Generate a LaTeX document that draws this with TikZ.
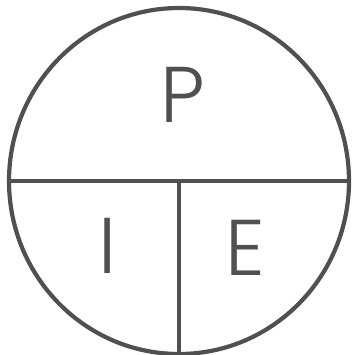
\documentclass[tikz,border=0pt]{standalone}
\usepackage{fontspec}
\newfontfamily\piefont{Poppins Light}
\definecolor{pieline}{HTML}{505050}
\begin{document}
\begin{tikzpicture}[x=1pt,y=-1pt,line cap=round,line join=round]
\tikzset{letter/.style={font=\piefont\fontsize{79}{79}\selectfont,text=pieline,inner sep=0pt,anchor=base}}
\useasboundingbox (0,0) rectangle (351,355);
% outer ring
\coordinate (c) at (179,181);
\draw[pieline,line width=4.2] (c) ellipse (170 and 173);
% dividers
\coordinate (west) at (10,181);
\coordinate (east) at (348,181);
\coordinate (south) at (179,353);
\draw[pieline,line width=3.2] (west) -- (east);
\draw[pieline,line width=3.2] (c) -- (south);
% letters
\node[letter] (p) at (183,123) {P};
\node[letter] (i) at (108,273) {I};
\node[letter] (e) at (245,275) {E};
\end{tikzpicture}
\end{document}
